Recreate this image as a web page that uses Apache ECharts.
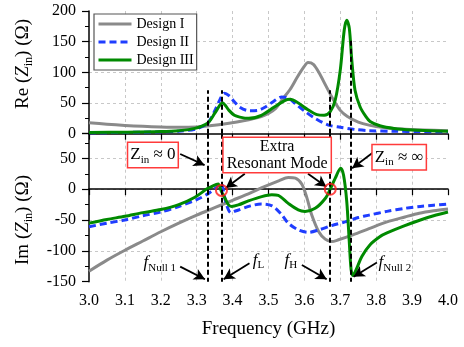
<!DOCTYPE html>
<html>
<head>
<meta charset="utf-8">
<script src="https://cdn.jsdelivr.net/npm/echarts@6/dist/echarts.min.js"></script>
<style>
  html, body { margin: 0; padding: 0; background: #fff; }
  #chart { width: 464px; height: 347px; }
</style>
</head>
<body>
<div id="chart"></div>
<script>
// ---- Re(Zin) samples, frequency in GHz, resistance in ohm ----
const reFreqI = [3.00, 3.05, 3.10, 3.15, 3.20, 3.25, 3.30, 3.33, 3.39, 3.43, 3.48, 3.50, 3.52, 3.54, 3.56, 3.58, 3.60, 3.61, 3.625, 3.64, 3.66, 3.68, 3.70, 3.72, 3.75, 3.78, 3.82, 3.87, 3.93, 4.00];
const reValI  = [18, 15.5, 13.5, 12, 11, 10.5, 11, 12.5, 17, 21, 28, 33, 41, 57, 72, 92, 110, 116, 113, 100, 78, 56, 38, 28, 19, 14, 10, 7.5, 6, 5];

const reFreqII = [3.00, 3.10, 3.20, 3.25, 3.30, 3.33, 3.35, 3.365, 3.377, 3.39, 3.405, 3.42, 3.445, 3.47, 3.49, 3.515, 3.537, 3.555, 3.575, 3.60, 3.63, 3.667, 3.70, 3.74, 3.78, 3.85, 3.92, 4.00];
const reValII  = [1.5, 2, 3, 4, 8, 17, 37, 56, 66, 62, 52, 43, 37.5, 38, 43, 53, 60, 58, 49, 37, 25, 14, 10.5, 7, 5, 4, 3.5, 3];

const reFreqIII = [3.00, 3.10, 3.20, 3.25, 3.295, 3.33, 3.35, 3.365, 3.372, 3.38, 3.39, 3.405, 3.42, 3.445, 3.48, 3.515, 3.545, 3.56, 3.583, 3.61, 3.635, 3.655, 3.672, 3.686, 3.70, 3.711, 3.718, 3.725, 3.732, 3.741, 3.755, 3.77, 3.783, 3.81, 3.85, 3.90, 3.95, 4.00];
const reValIII  = [2, 2.5, 3.5, 5, 8.7, 17, 33, 47, 50.5, 46, 38, 30, 27, 25, 30, 43, 54, 56, 50, 39, 31, 30, 36, 55, 104, 169, 185, 172, 120, 71, 44, 29, 20, 13, 8.5, 6, 5, 4];

// ---- Im(Zin) samples, frequency in GHz, reactance in ohm ----
const imFreqI = [3.00, 3.05, 3.10, 3.15, 3.20, 3.25, 3.30, 3.35, 3.40, 3.45, 3.48, 3.53, 3.555, 3.575, 3.593, 3.607, 3.62, 3.64, 3.658, 3.676, 3.695, 3.735, 3.78, 3.83, 3.88, 3.92, 3.96, 4.00];
const imValI  = [-133, -115, -99, -84, -69, -55, -42, -30, -18, -6, 2, 14, 19, 18, 8, -14, -41, -69, -81, -85, -82, -74, -64, -53, -45, -39, -35, -32];

const imFreqII = [3.00, 3.05, 3.10, 3.15, 3.20, 3.25, 3.30, 3.33, 3.355, 3.368, 3.376, 3.383, 3.395, 3.41, 3.45, 3.48, 3.51, 3.535, 3.555, 3.583, 3.611, 3.64, 3.676, 3.713, 3.75, 3.78, 3.83, 3.88, 3.923, 3.96, 4.00];
const imValII  = [-61, -55, -50, -43, -37, -28, -17, -8, 3, 10, -8, -25, -38, -35, -27, -24, -27, -40, -55, -66, -70, -66, -59, -53, -46, -42, -36, -31, -28, -26, -24];

const imFreqIII = [3.00, 3.05, 3.10, 3.15, 3.20, 3.25, 3.295, 3.33, 3.355, 3.36, 3.369, 3.379, 3.388, 3.397, 3.416, 3.444, 3.481, 3.509, 3.527, 3.555, 3.583, 3.602, 3.63, 3.658, 3.672, 3.686, 3.701, 3.709, 3.718, 3.725, 3.73, 3.735, 3.746, 3.76, 3.783, 3.81, 3.83, 3.876, 3.923, 3.96, 4.00];
const imValIII  = [-55, -49, -44, -38, -33, -25, -13, 1, 8, 8.5, -4, -15, -25, -28, -25.5, -19, -12, -9, -10, -23, -33.6, -36, -31, -15, 0, 18, 34, 23, -20, -85, -130, -140, -128, -109, -90, -77, -71, -60, -50, -43, -37];

// ---- Marked frequencies: fNull1, fL, fH, fNull2 ----
const markerFreqs = [3.33, 3.369, 3.672, 3.729];
const markerReTop = [71, 71, 71, 155];

// ---- Zero crossings of the extra resonant mode ----
const resonantFreqs = [3.369, 3.672];
const resonantIm = [-2, 0];

// ---- Axis ticks ----
const freqMin = 3.0, freqMax = 4.0, freqStep = 0.1;
const reMin = 0, reMax = 200, reStep = 50;
const imMin = -150, imMax = 90, imStep = 50;

const seriesNames = ['Design I', 'Design II', 'Design III'];

const pair = (xs, ys) => xs.map((x, i) => [x, ys[i]]);

const SERIF = 'Liberation Serif';
const colors = ['#8a8a8a', '#1f3dff', '#008a00'];
const dashes = ['solid', [7, 4], 'solid'];

function curve(name, idx, gridIdx, data) {
  return {
    name: name,
    type: 'line',
    xAxisIndex: gridIdx,
    yAxisIndex: gridIdx,
    data: data,
    showSymbol: false,
    symbol: 'none',
    smooth: 0.3,
    lineStyle: { color: colors[idx], width: 3, type: dashes[idx], cap: 'butt', join: 'round' },
    itemStyle: { color: colors[idx] },
    emphasis: { disabled: true },
    z: 2 + idx
  };
}

const baseX = {
  type: 'value',
  min: freqMin,
  max: freqMax,
  interval: freqStep,
  axisLine: { show: true, lineStyle: { color: '#000', width: 1.5 } },
  axisTick: { show: true, inside: false, length: 6, lineStyle: { color: '#000', width: 1.2 } },
  splitLine: { show: true, showMinLine: false, showMaxLine: false, lineStyle: { color: '#c8c8c8', type: [3, 3], width: 1 } }
};

const baseY = {
  type: 'value',
  axisLine: { show: true, lineStyle: { color: '#000', width: 1.5 } },
  axisTick: { show: true, inside: false, length: 7, lineStyle: { color: '#000', width: 1.2 } },
  minorTick: { show: true, splitNumber: 2, length: 4, lineStyle: { color: '#000', width: 1 } },
  axisLabel: { color: '#000', fontFamily: SERIF, fontSize: 16, margin: 13 },
  splitLine: { show: true, showMinLine: false, showMaxLine: false, lineStyle: { color: '#c8c8c8', type: [3, 3], width: 1 } }
};

// Vertical dashed markers in both panels
const dashedLine = { color: '#000', width: 2, type: [5, 3] };
const topMarkers = markerFreqs.map((f, i) => [
  { coord: [f, 0] }, { coord: [f, markerReTop[i]] }
]);
const bottomMarkers = markerFreqs.map(f => [
  { coord: [f, imMax] }, { coord: [f, imMin] }
]);

// Arrows from the annotations towards the marked points
const arrowSegs = [
  [[3.254, 57], [3.322, 39]],
  [[3.434, 25], [3.381, 2]],
  [[3.610, 25], [3.661, 4]],
  [[3.792, 60], [3.733, 34]],
  [[3.254, -125.6], [3.323, -146]],
  [[3.447, -120], [3.375, -146]],
  [[3.593, -123], [3.662, -146]],
  [[3.802, -119], [3.737, -142]]
];

const boxLabel = {
  show: true,
  position: 'inside',
  color: '#000',
  fontFamily: SERIF,
  fontSize: 16,
  backgroundColor: '#fff',
  borderColor: '#ff3b3b',
  borderWidth: 1.5
};
const subRich = {
  n: { fontFamily: SERIF, fontSize: 17, color: '#000', lineHeight: 20, verticalAlign: 'middle' },
  s: { fontFamily: SERIF, fontSize: 11, color: '#000', lineHeight: 11, padding: [10, 0, 0, 0], verticalAlign: 'middle' },
  i: { fontFamily: SERIF, fontStyle: 'italic', fontSize: 17, color: '#000', lineHeight: 20, verticalAlign: 'middle' }
};

const annotations = [
  { coord: [3.178, 55.5], label: Object.assign({}, boxLabel, { formatter: '{n|Z}{s|in}{n| ≈ 0}', rich: subRich, padding: [2, 2, 2, 2] }) },
  { coord: [3.524, 55.5], label: Object.assign({}, boxLabel, { formatter: 'Extra\nResonant Mode', fontSize: 16, lineHeight: 17, padding: [0, 3, 0, 3] }) },
  { coord: [3.864, 52], label: Object.assign({}, boxLabel, { formatter: '{n|Z}{s|in}{n| ≈ ∞}', rich: subRich, padding: [2, 2, 2, 2] }) },
  { coord: [3.197, -119.5], label: { show: true, position: 'inside', formatter: '{i|f}{s|Null 1}', rich: subRich } },
  { coord: [3.472, -115.5], label: { show: true, position: 'inside', formatter: '{i|f}{s|L}', rich: subRich } },
  { coord: [3.562, -115.5], label: { show: true, position: 'inside', formatter: '{i|f}{s|H}', rich: subRich } },
  { coord: [3.852, -119.5], label: { show: true, position: 'inside', formatter: '{i|f}{s|Null 2}', rich: subRich } }
].map(a => Object.assign({ symbol: 'rect', symbolSize: 1, itemStyle: { color: 'rgba(0,0,0,0)' } }, a));

const reIII = curve(seriesNames[2], 2, 0, pair(reFreqIII, reValIII));
reIII.markLine = {
  silent: true, animation: false, symbol: ['none', 'none'],
  label: { show: false }, lineStyle: dashedLine, data: topMarkers
};

const imIII = curve(seriesNames[2], 2, 1, pair(imFreqIII, imValIII));
imIII.markLine = {
  silent: true, animation: false, symbol: ['none', 'none'],
  label: { show: false }, lineStyle: dashedLine, data: bottomMarkers
};

const circles = {
  name: 'zero crossings',
  type: 'scatter',
  xAxisIndex: 1,
  yAxisIndex: 1,
  data: pair(resonantFreqs, resonantIm),
  symbol: 'circle',
  symbolSize: 11,
  itemStyle: { color: 'rgba(0,0,0,0)', borderColor: '#ff1a1a', borderWidth: 2 },
  emphasis: { disabled: true },
  z: 8,
  markLine: {
    silent: true, animation: false, z: 6,
    symbol: ['none', 'arrow'], symbolSize: [9, 11],
    label: { show: false },
    lineStyle: { color: '#000', width: 1.8, type: 'solid' },
    data: arrowSegs.map(s => [{ coord: s[0] }, { coord: s[1] }])
  },
  markPoint: {
    silent: true, animation: false, z: 10,
    data: annotations
  }
};

const titleRich = {
  n: { fontFamily: SERIF, fontSize: 19, fill: '#000' },
  i: { fontFamily: SERIF, fontSize: 19, fontStyle: 'italic', fill: '#000' },
  s: { fontFamily: SERIF, fontSize: 12, fill: '#000', padding: [11, 0, 0, 0], lineHeight: 12 }
};

const chart = echarts.init(document.getElementById('chart'), null, { renderer: 'canvas' });
chart.setOption({
  animation: false,
  backgroundColor: '#fff',
  textStyle: { fontFamily: SERIF },
  grid: [
    { left: 89, right: 16, top: 11, height: 122.7 },
    { left: 89, right: 16, top: 133.7, height: 148 }
  ],
  legend: {
    data: seriesNames,
    orient: 'vertical',
    left: 94,
    top: 14,
    padding: [3, 3, 3, 3],
    itemWidth: 33,
    itemHeight: 12,
    itemGap: 4,
    backgroundColor: '#fff',
    borderColor: '#555',
    borderWidth: 1.2,
    borderRadius: 0,
    itemStyle: { opacity: 0 },
    lineStyle: { width: 3 },
    textStyle: { fontFamily: SERIF, fontSize: 14, color: '#000' },
    z: 20
  },
  xAxis: [
    Object.assign({}, baseX, { gridIndex: 0, axisLabel: { show: false } }),
    Object.assign({}, baseX, {
      gridIndex: 1,
      axisLabel: { color: '#000', fontFamily: SERIF, fontSize: 16, margin: 11, formatter: v => v.toFixed(1) },
      name: 'Frequency (GHz)',
      nameLocation: 'middle',
      nameGap: 38,
      nameTextStyle: { color: '#000', fontFamily: SERIF, fontSize: 19 }
    })
  ],
  yAxis: [
    Object.assign({}, baseY, { gridIndex: 0, min: reMin, max: reMax, interval: reStep }),
    Object.assign({}, baseY, {
      gridIndex: 1, min: imMin, max: imMax, interval: imStep,
      axisLabel: Object.assign({}, baseY.axisLabel, { showMaxLabel: false })
    })
  ],
  graphic: [
    {
      type: 'text', x: 23, y: 64, rotation: Math.PI / 2, z: 30,
      style: { text: '{n|Re (}{i|Z}{s|in}{n|) (Ω)}', rich: titleRich, align: 'center', verticalAlign: 'middle' }
    },
    {
      type: 'text', x: 23, y: 220, rotation: Math.PI / 2, z: 30,
      style: { text: '{n|Im (}{i|Z}{s|in}{n|) (Ω)}', rich: titleRich, align: 'center', verticalAlign: 'middle' }
    }
  ],
  series: [
    curve(seriesNames[0], 0, 0, pair(reFreqI, reValI)),
    curve(seriesNames[1], 1, 0, pair(reFreqII, reValII)),
    reIII,
    curve(seriesNames[0], 0, 1, pair(imFreqI, imValI)),
    curve(seriesNames[1], 1, 1, pair(imFreqII, imValII)),
    imIII,
    circles
  ]
});
</script>
</body>
</html>
